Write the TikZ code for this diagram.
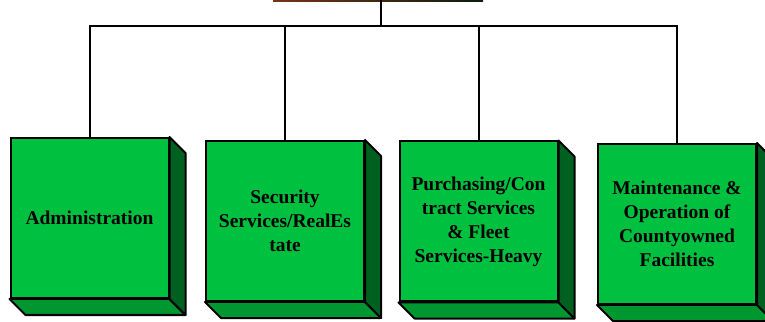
\documentclass[tikz,border=0pt]{standalone}
\usepackage{fontspec}
\setmainfont{Liberation Serif}
\definecolor{facefront}{RGB}{0,192,64}
\definecolor{faceside}{RGB}{0,96,32}
\definecolor{facebottom}{RGB}{0,150,48}
\definecolor{stripleft}{RGB}{120,50,20}
\definecolor{stripright}{RGB}{10,30,15}
\tikzset{
  unitbox/.style={draw=black, line width=2pt, fill=facefront,
    minimum width=158pt, minimum height=160pt, inner sep=0pt,
    align=center, font=\bfseries\fontsize{19.5}{24}\selectfont},
  sideface/.style={draw=black, line width=2pt, fill=faceside, line join=round},
  bottomface/.style={draw=black, line width=2pt, fill=facebottom, line join=round},
  link/.style={draw=black, line width=2pt}
}
\newcommand{\boxdepth}[1]{%
  \path[bottomface] (#1.south west) -- (#1.south east) -- ++(16pt,-16pt) -- ([shift={(16pt,-16pt)}]#1.south west) -- cycle;
  \path[sideface] (#1.north east) -- ++(16pt,-16pt) -- ([shift={(16pt,-16pt)}]#1.south east) -- (#1.south east) -- cycle;
}
\begin{document}
\begin{tikzpicture}[x=1pt,y=1pt]
  \useasboundingbox (0,0) rectangle (765,321);
  % edge of the parent unit above
  \shade[left color=stripleft, right color=stripright] (273,319.5) rectangle (483,321);
  \coordinate (top) at (380.5,321);
  \coordinate (hub) at (380.5,295);

  \node[unitbox] (b1) at (89.5,103) {Administration};
  \node[unitbox] (b2) at (285,100) {Security\\Services/RealEs\\tate};
  \node[unitbox] (b3) at (478.5,99.5) {Purchasing/Con\\tract Services\\\& Fleet\\Services-Heavy};
  \node[unitbox] (b4) at (677,97) {Maintenance \&\\Operation of\\Countyowned\\Facilities};

  \boxdepth{b1}
  \boxdepth{b2}
  \boxdepth{b3}
  \boxdepth{b4}

  \draw[link] (top) -- (hub);
  \draw[link] (b1.north) -- (b1.north |- hub) -- (b4.north |- hub) -- (b4.north);
  \draw[link] (b2.north) -- (b2.north |- hub);
  \draw[link] (b3.north) -- (b3.north |- hub);
\end{tikzpicture}
\end{document}
